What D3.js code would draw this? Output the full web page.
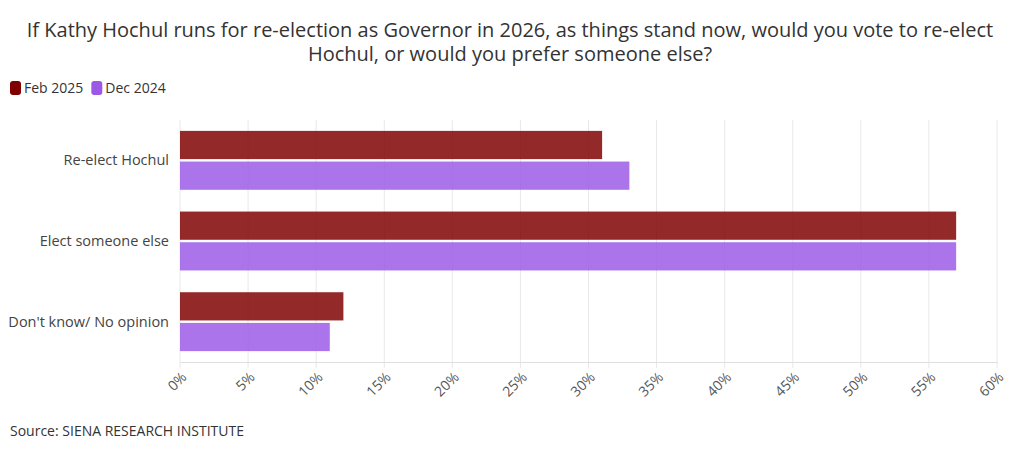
<!DOCTYPE html>
<html lang="en">
<head>
<meta charset="UTF-8">
<title>Hochul re-election</title>
<script src="https://d3js.org/d3.v7.min.js"></script>
<style>
    body { margin: 0; background: #fff; }
    text { font-family: "Open Sans", "Noto Sans", sans-serif; }
</style>
</head>
<body>
<script>
    const categories = ["Re-elect Hochul", "Elect someone else", "Don't know/ No opinion"];
    const seriesNames = ["Feb 2025", "Dec 2024"];
    const feb2025 = [31, 57, 12];
    const dec2024 = [33, 57, 11];
    const ticks = [0, 5, 10, 15, 20, 25, 30, 35, 40, 45, 50, 55, 60];
    const colors = ["#800000", "#9b59e6"];

    const W = 1020, H = 451;
    const svg = d3.select("body").append("svg")
        .attr("width", W)
        .attr("height", H);

    const plotLeft = 180, plotRight = 997, plotTop = 120, plotBottom = 362;

    const x = d3.scaleLinear().domain([0, 60]).range([plotLeft, plotRight]);
    const y = d3.scaleBand().domain(categories).range([plotTop, plotBottom]).paddingInner(0.27).paddingOuter(0.135);
    const ySub = d3.scaleBand().domain(seriesNames).range([0, y.bandwidth()]).paddingInner(0.08);

    // title, two lines
    const titleLines = [
        "If Kathy Hochul runs for re-election as Governor in 2026, as things stand now, would you vote to re-elect",
        "Hochul, or would you prefer someone else?"
    ];
    svg.append("g").selectAll("text")
        .data(titleLines)
        .enter().append("text")
        .attr("x", 510)
        .attr("y", (d, i) => 37 + i * 24)
        .attr("text-anchor", "middle")
        .attr("font-size", 20)
        .attr("fill", "#333")
        .text(d => d);

    // legend
    const legend = svg.append("g");
    let lx = 10;
    seriesNames.forEach((name, i) => {
        legend.append("rect")
            .attr("x", lx).attr("y", 81).attr("width", 11).attr("height", 14)
            .attr("rx", 3).attr("fill", colors[i]);
        const t = legend.append("text")
            .attr("x", lx + 14).attr("y", 93)
            .attr("font-size", 14).attr("fill", "#333")
            .text(name);
        lx += 14 + t.node().getComputedTextLength() + 8;
    });

    // grid
    svg.append("g").selectAll("line")
        .data(ticks)
        .enter().append("line")
        .attr("x1", d => x(d)).attr("x2", d => x(d))
        .attr("y1", plotTop).attr("y2", plotBottom + 6)
        .attr("stroke", "#e8e8e8");

    // axis
    const xAxis = svg.append("g")
        .attr("transform", `translate(0,${plotBottom})`)
        .call(d3.axisBottom(x).tickValues(ticks).tickFormat(d => d + "%").tickSize(0).tickPadding(0));
    xAxis.select(".domain").attr("stroke", "#e0e0e0");
    xAxis.selectAll("text")
        .attr("font-size", 14)
        .attr("fill", "#555")
        .attr("text-anchor", "end")
        .attr("dy", 0)
        .attr("transform", "translate(7,16) rotate(-45)");

    // category labels
    svg.append("g").selectAll("text")
        .data(categories)
        .enter().append("text")
        .attr("x", plotLeft - 11)
        .attr("y", d => y(d) + y.bandwidth() / 2)
        .attr("dy", "0.35em")
        .attr("text-anchor", "end")
        .attr("font-size", 14.5)
        .attr("fill", "#444")
        .text(d => d);

    // bars
    const series = [feb2025, dec2024];
    series.forEach((vals, si) => {
        svg.append("g").selectAll("rect")
            .data(vals)
            .enter().append("rect")
            .attr("x", x(0))
            .attr("y", (d, i) => y(categories[i]) + ySub(seriesNames[si]))
            .attr("width", d => x(d) - x(0))
            .attr("height", ySub.bandwidth())
            .attr("fill", colors[si])
            .attr("fill-opacity", 0.84);
    });

    // source
    svg.append("text")
        .attr("x", 10).attr("y", 436)
        .attr("font-size", 14)
        .attr("fill", "#333")
        .text("Source: SIENA RESEARCH INSTITUTE");
</script>
</body>
</html>
